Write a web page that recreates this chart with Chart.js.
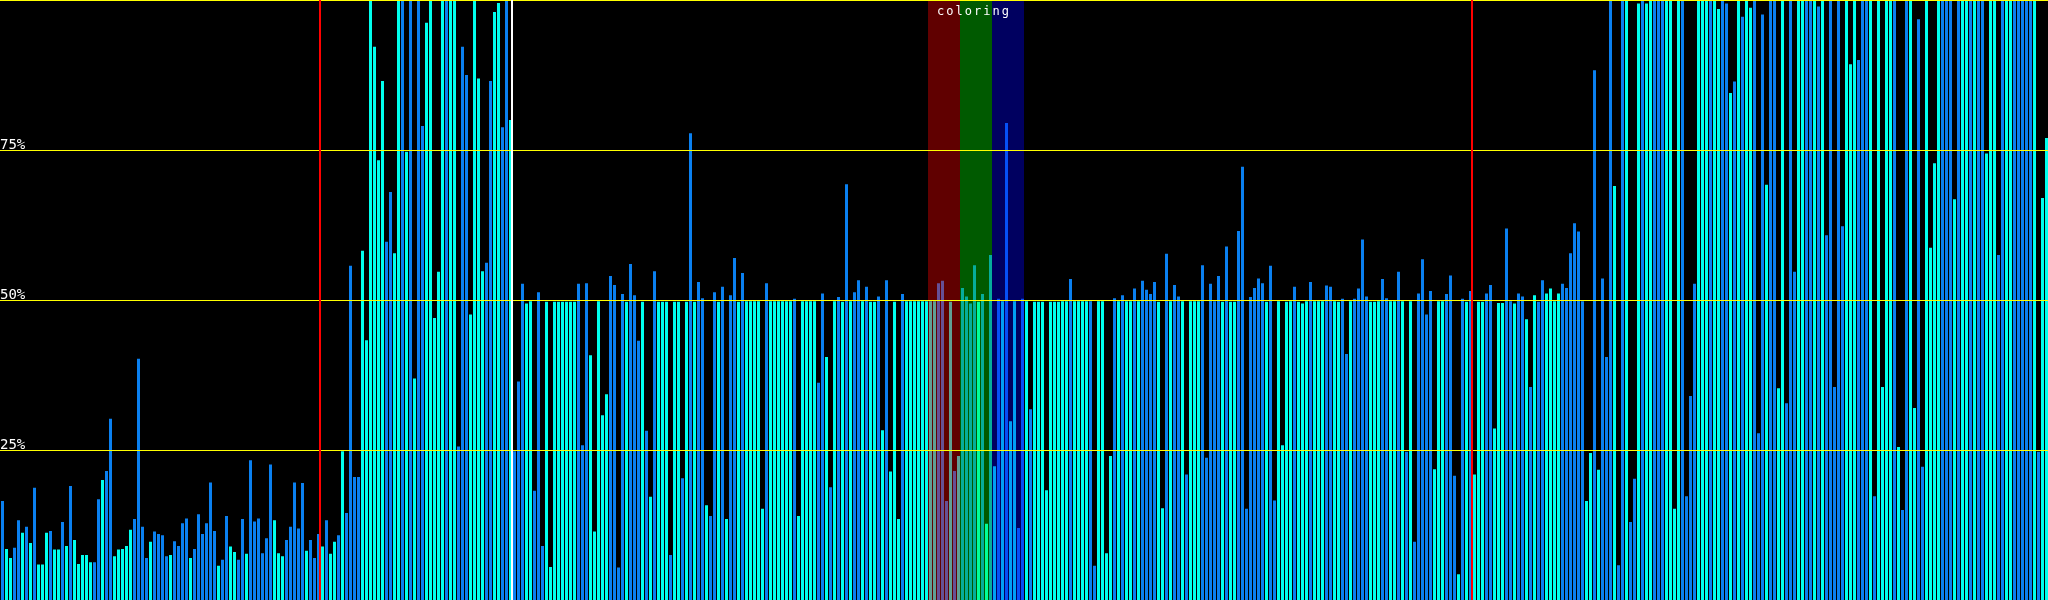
<!DOCTYPE html>
<html>
<head>
<meta charset="utf-8">
<title>coloring</title>
<script src="https://cdn.jsdelivr.net/npm/chart.js@4.4.0/dist/chart.umd.min.js"></script>
<style>
  html, body { margin: 0; padding: 0; background: #000; overflow: hidden }
  canvas { display: block; background: #000 }
</style>
</head>
<body>
<canvas id="chart" width="2048" height="600"></canvas>
<script>
// bar heights in % (0..100), one per column, 512 columns
var values = [
  16.5, 8.5, 7.0, 8.7, 13.3, 11.2, 12.2, 9.5, 18.7, 5.9,
  5.9, 11.2, 11.5, 8.4, 8.4, 13.0, 9.0, 19.0, 10.0, 6.0,
  7.5, 7.5, 6.3, 6.3, 16.8, 20.0, 21.5, 30.2, 7.3, 8.4,
  8.5, 9.0, 11.7, 13.5, 40.2, 12.2, 7.0, 9.7, 11.4, 11.0,
  10.8, 7.3, 7.5, 9.8, 9.0, 12.8, 13.6, 7.0, 8.5, 14.3,
  11.0, 12.8, 19.6, 11.5, 5.7, 6.7, 14.0, 8.9, 8.0, 6.7,
  13.5, 7.7, 23.3, 13.1, 13.6, 7.8, 10.3, 22.6, 13.3, 7.8,
  7.3, 10.0, 12.2, 19.6, 11.9, 19.5, 8.2, 10.0, 7.0, 11.0,
  8.9, 13.3, 7.7, 9.7, 10.8, 24.8, 14.5, 55.7, 20.5, 20.5,
  58.2, 43.3, 100, 92.2, 73.3, 86.5, 59.7, 68.0, 57.8, 100,
  100, 74.7, 100, 36.9, 100, 79.0, 96.2, 100, 47.0, 54.7,
  100, 100, 100, 100, 25.6, 92.2, 87.5, 47.6, 100, 86.9,
  54.8, 56.2, 86.5, 98.0, 99.5, 78.8, 100, 80.0, 24.8, 36.4,
  52.7, 49.4, 49.8, 18.2, 51.3, 9.0, 49.7, 5.5, 49.7, 49.7,
  49.7, 49.7, 49.7, 49.7, 52.7, 25.8, 52.8, 40.8, 11.4, 49.8,
  30.8, 34.3, 54.0, 52.5, 5.4, 51.0, 49.7, 56.0, 50.8, 43.2,
  49.7, 28.2, 17.2, 54.8, 49.7, 49.7, 49.7, 7.5, 49.7, 49.7,
  20.3, 49.7, 77.8, 49.7, 53.0, 50.3, 15.8, 14.0, 51.3, 49.7,
  52.2, 13.5, 50.8, 57.0, 49.7, 54.5, 49.8, 49.8, 49.8, 49.8,
  15.2, 52.8, 49.8, 49.8, 49.8, 49.8, 49.8, 49.8, 50.2, 14.0,
  49.8, 49.8, 49.8, 49.8, 36.2, 51.1, 40.5, 18.8, 49.8, 50.5,
  49.7, 69.3, 49.8, 51.3, 53.3, 49.8, 52.2, 49.7, 49.7, 50.6,
  28.3, 53.3, 21.4, 49.7, 13.5, 51.0, 49.8, 49.8, 49.8, 49.8,
  49.8, 49.8, 49.8, 49.8, 52.8, 53.2, 16.5, 49.7, 21.5, 24.0,
  52.0, 50.6, 49.4, 55.8, 49.7, 51.0, 12.7, 57.5, 22.3, 50.2,
  49.8, 79.5, 29.8, 49.8, 12.0, 50.2, 49.8, 31.8, 49.7, 49.7,
  49.7, 18.3, 49.7, 49.7, 49.7, 49.8, 49.8, 53.5, 49.8, 49.8,
  49.8, 49.8, 49.8, 5.7, 49.8, 49.8, 7.8, 24.0, 50.3, 49.8,
  50.8, 49.8, 49.8, 51.9, 49.8, 53.2, 51.7, 51.0, 53.0, 49.7,
  15.3, 57.7, 49.8, 52.5, 50.6, 49.8, 20.9, 49.8, 49.8, 49.8,
  55.8, 23.7, 52.7, 49.8, 54.0, 49.7, 58.9, 49.7, 49.7, 61.5,
  72.2, 15.2, 50.5, 52.0, 53.6, 52.8, 49.7, 55.7, 16.6, 49.8,
  25.8, 49.7, 49.8, 52.2, 49.7, 49.4, 49.8, 53.0, 49.8, 49.8,
  49.8, 52.4, 52.2, 49.8, 49.7, 50.2, 41.0, 49.8, 50.2, 51.9,
  60.1, 50.6, 49.7, 49.7, 49.8, 53.5, 50.3, 49.8, 49.8, 54.7,
  49.8, 24.7, 49.8, 9.7, 51.1, 56.8, 47.6, 51.5, 21.8, 49.8,
  49.8, 51.0, 54.1, 20.7, 4.3, 50.2, 49.7, 51.5, 20.9, 49.7,
  49.7, 51.1, 52.5, 28.6, 49.5, 49.5, 61.9, 49.8, 49.4, 51.1,
  50.6, 46.8, 35.5, 50.8, 49.7, 53.3, 51.1, 51.9, 49.8, 51.1,
  52.7, 52.0, 57.8, 62.8, 61.4, 49.8, 16.5, 24.5, 88.3, 21.7,
  53.6, 40.5, 100, 69.0, 5.8, 100, 100, 13.0, 20.2, 99.4,
  100, 99.4, 100, 100, 100, 100, 100, 100, 15.2, 100,
  100, 17.3, 34.0, 52.7, 100, 100, 100, 100, 100, 98.5,
  100, 99.4, 84.5, 86.4, 100, 97.2, 100, 98.7, 100, 27.8,
  97.6, 69.2, 100, 100, 35.3, 100, 32.8, 100, 54.7, 100,
  100, 100, 100, 100, 98.9, 100, 60.8, 100, 35.5, 100,
  62.3, 100, 89.3, 100, 90.0, 100, 100, 100, 17.3, 100,
  35.5, 100, 100, 100, 25.5, 15.0, 100, 100, 32.0, 96.8,
  22.2, 100, 58.7, 72.8, 100, 100, 100, 100, 66.8, 100,
  100, 100, 100, 100, 100, 100, 74.4, 100, 100, 57.5,
  100, 100, 100, 100, 100, 100, 100, 100, 100, 24.7, 67.0, 77.0
]

// which series each column belongs to: c = cyan, b = blue
var kinds = (
  'bccbbcbcbc' + 'ccbccbcbcc' + 'cccbbcbbcc' + 'cccbbbbcbb' + 'bbcbbbbcbb' +
  'bbbbcbbccb' + 'bcbbbbbbcc' + 'cbbbbbcbbb' + 'cbccbcbbbb' + 'ccccccbbcc' +
  'bcbcbbcccc' + 'cbccbbbccc' + 'cbbccbbcbb' + 'bccbbbcccc' + 'ccccbbbccc' +
  'ccbbbbcbbb' + 'cbcbcccbcc' + 'bcbcbbcbbc' + 'bcbbcbcccc' + 'cbccccccbc' +
  'ccccbbcbcb' + 'cbcbbcbccb' + 'cbcccbcccc' + 'ccccbbbcbc' + 'bbbbcbcbcb' +
  'cbccbbcbcc' + 'cccccccbcc' + 'ccbbccccbc' + 'bccbcbbbbc' + 'cbcbbcbccc' +
  'bbbbbcbccb' + 'bbbbbbcbbc' + 'cccbcccbcc' + 'cbbccbbcbb' + 'bbcccbbccb' +
  'cbcbbbbbcc' + 'cbbbcbcbcc' + 'cbbcccbbcb' + 'bcbcbbcccc' + 'bbbbbbccbc' +
  'bbbcbbcbbc' + 'bccbbbcccc' + 'bbbbcccbcc' + 'bbcbcbccbb' + 'bcbbccbbbc' +
  'cbbcbcbbbb' + 'bcccbbbcbc' + 'cccbcbbccb' + 'bccccbbbcb' + 'ccbcbbcccb' +
  'bccbbbbbcbcc'
).split('')

var labels = values.map(function (v, i) { return String(i) })
var gridValues = [25, 50, 75, 100]
var tickLabels = ['25%', '50%', '75%', '']

// overlay bands (column ranges) and vertical markers (column boundaries)
var bandFrom = [232, 240, 248]
var bandTo = [239, 247, 255]
var bandColors = ['rgba(255,0,0,0.376)', 'rgba(0,255,0,0.353)', 'rgba(0,0,255,0.376)']
var bandTitle = 'coloring'
var markerAt = [80, 128, 368]
var markerColors = ['#ff0000', '#ffffff', '#ff0000']

var palette = { c: '#00ffee', b: '#0a80f0' }
var colors = kinds.map(function (k) { return palette[k] })

var overlay = {
  id: 'overlay',
  beforeDatasetsDraw: function (chart) {
    chart.ctx.save()
    chart.ctx.translate(0.5, 0)
  },
  afterDatasetsDraw: function (chart) {
    var c = chart.ctx
    c.restore()
    var xs = chart.scales.x, ys = chart.scales.y
    var area = chart.chartArea
    var half = (xs.getPixelForValue(1) - xs.getPixelForValue(0)) / 2
    c.save()
    bandFrom.forEach(function (from, i) {
      var x0 = xs.getPixelForValue(from) - half
      var x1 = xs.getPixelForValue(bandTo[i]) + half
      c.fillStyle = bandColors[i]
      c.fillRect(x0, area.top, x1 - x0, area.bottom - area.top)
    })
    c.fillStyle = '#ffff00'
    gridValues.forEach(function (v) {
      var py = Math.round(ys.getPixelForValue(v))
      c.fillRect(area.left, py, area.right - area.left, 1)
    })
    markerAt.forEach(function (m, i) {
      var px = Math.round(xs.getPixelForValue(m) - half)
      c.fillStyle = markerColors[i]
      c.fillRect(px - 1, area.top, 2, area.bottom - area.top)
    })
    c.fillStyle = '#ffffff'
    c.font = '14px "DejaVu Sans Mono", monospace'
    c.textAlign = 'left'
    c.textBaseline = 'alphabetic'
    gridValues.forEach(function (v, i) {
      if (!tickLabels[i]) return
      var py = Math.round(ys.getPixelForValue(v))
      c.fillText(tickLabels[i], area.left, py - 1)
    })
    var bx0 = xs.getPixelForValue(bandFrom[0]) - half
    var bx1 = xs.getPixelForValue(bandTo[bandTo.length - 1]) + half
    c.font = '12px "DejaVu Sans Mono", monospace'
    c.letterSpacing = '2px'
    c.textAlign = 'center'
    c.fillText(bandTitle, (bx0 + bx1) / 2 - 2, 15)
    c.restore()
  }
}

var ctx = document.getElementById('chart')
var chart = new Chart(ctx, {
  type: 'bar',
  data: {
    labels: labels,
    datasets: [{
      data: values,
      backgroundColor: colors,
      borderWidth: 0,
      inflateAmount: 0,
      barPercentage: 0.75,
      categoryPercentage: 1
    }]
  },
  options: {
    responsive: false,
    animation: false,
    events: [],
    layout: { padding: 0 },
    plugins: { legend: { display: false }, tooltip: { enabled: false } },
    scales: {
      x: { display: false, offset: true },
      y: { display: false, min: 0, max: 100 }
    }
  },
  plugins: [overlay]
})
</script>
</body>
</html>
